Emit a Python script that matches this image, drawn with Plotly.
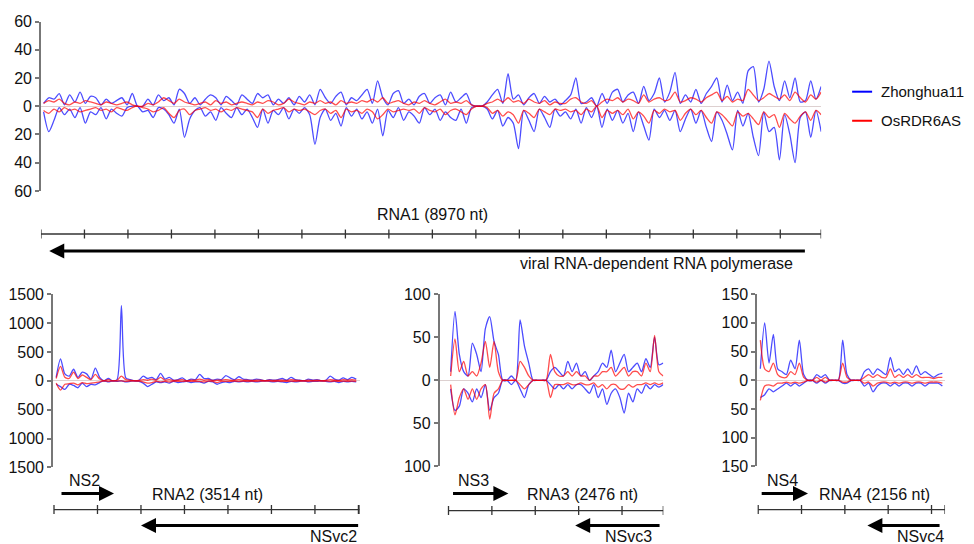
import plotly.graph_objects as go

W, H = 974, 544
FONT = "Liberation Sans, Arial, sans-serif"

# ---------------- data (small RNA counts per bin) ----------------
rna1_len = 8970
rna1_bin = 60
rna1_zh_pos = [2, 6, 5, 9, 1, 8, 3, 10, 2, 7,
               6, 1, 5, 2, 4, 6, 1, 9, 0, 0,
               5, 1, 8, 4, 6, 1, 12, 9, 2, 6,
               1, 5, 8, 6, 1, 7, 4, 1, 8, 5,
               2, 9, 6, 8, 1, 5, 2, 6, 1, 7,
               3, 8, 1, 12, 6, 2, 7, 10, 1, 6,
               4, 8, 12, 2, 18, 6, 1, 9, 11, 2,
               5, 1, 7, 9, 2, 6, 8, 1, 10, 3,
               6, 9, 1, 0, 0, 3, 8, 12, 2, 23,
               5, 8, 1, 6, 9, 2, 7, 3, 5, 1,
               4, 8, 20, 2, 3, 6, 0, 9, 2, 10,
               12, 3, 8, 10, 2, 14, 4, 9, 20, 3,
               10, 24, 2, 8, 3, 12, 2, 9, 14, 20,
               3, 15, 4, 10, 2, 25, 28, 3, 12, 32,
               14, 4, 18, 6, 20, 3, 4, 18, 5, 14]
rna1_zh_neg = [-4, -18, -10, -1, -6, -2, -8, -1, -12, -4,
               -6, -1, -9, -2, -5, -7, -1, 0, 0, -4,
               -3, -8, -1, -2, -6, -12, -2, -22, -9, -3,
               -1, -7, -4, -10, -1, -5, -8, -1, -6, -2,
               -8, -15, -2, -12, -3, -6, -1, -9, -2, -5,
               -1, -6, -27, -8, -2, -10, -5, -14, -1, -7,
               -2, -9, -4, -12, -2, -21, -3, -8, -1, -10,
               -4, -7, -12, -1, -6, -2, -10, -4, -8, -10,
               -2, -12, -1, 0, 0, -2, -9, -3, -14, -8,
               -12, -30, -3, -10, -18, -2, -8, -15, -2, -7,
               -4, -9, -2, -12, -1, -8, 0, -15, -2, -10,
               -3, -12, -5, -18, -4, -14, -24, -2, -8, -3,
               -10, -3, -18, -9, -2, -12, -3, -15, -25, -4,
               -10, -20, -31, -3, -14, -5, -22, -35, -4, -18,
               -15, -38, -6, -20, -40, -8, -4, -22, -3, -18]
rna1_rd_pos = [2, 4, 3, 5, 2, 1, 3, 2, 4, 3,
               2, 1, 3, 2, 1, 2, 3, 1, 0, 0,
               2, 1, 3, 6, 4, 2, 5, 3, 2, 1,
               2, 3, 1, 4, 2, 3, 1, 2, 3, 2,
               1, 3, 2, 4, 3, 1, 2, 5, 3, 2,
               1, 3, 2, 4, 2, 3, 1, 4, 2, 3,
               2, 4, 3, 5, 3, 6, 2, 3, 4, 2,
               1, 3, 2, 4, 2, 1, 3, 5, 2, 3,
               2, 4, 1, 0, 0, 2, 3, 5, 3, 6,
               3, 4, 2, 5, 3, 2, 4, 1, 3, 2,
               2, 5, 6, 3, 2, 4, 0, 3, 5, 4,
               6, 3, 5, 4, 2, 8, 3, 5, 6, 4,
               5, 10, 3, 4, 6, 5, 3, 6, 8, 10,
               4, 7, 3, 5, 4, 12, 8, 4, 6, 9,
               7, 5, 8, 4, 10, 6, 3, 8, 5, 10]
rna1_rd_neg = [-3, -5, -2, -4, -1, -3, -2, -4, -3, -2,
               -1, -3, -2, -4, -1, -2, -3, -1, 0, -1,
               -2, -4, -3, -1, -5, -8, -3, -2, -6, -3,
               -2, -1, -3, -2, -4, -2, -3, -1, -2, -3,
               -4, -8, -2, -5, -3, -2, -1, -4, -2, -3,
               -2, -4, -6, -3, -2, -5, -3, -8, -2, -4,
               -3, -5, -2, -4, -9, -6, -2, -4, -3, -2,
               -3, -2, -5, -1, -3, -4, -2, -6, -3, -2,
               -4, -6, -2, 0, 0, -1, -5, -3, -7, -4,
               -6, -12, -3, -5, -8, -2, -4, -6, -2, -3,
               -2, -4, -3, -6, -2, -4, 0, -8, -3, -5,
               -3, -6, -2, -9, -4, -7, -12, -3, -5, -2,
               -4, -3, -10, -5, -2, -6, -3, -8, -12, -4,
               -6, -10, -14, -4, -7, -5, -9, -13, -4, -8,
               -6, -15, -5, -9, -12, -7, -4, -10, -3, -6]

rna2_len = 3514
rna2_bin = 50
rna2_zh_pos = [60, 380, 120, 80, 200, 60, 150, 120, 30, 220,
               60, 0, 40, 0, 20, 1300, 50, 20, 0, 10,
               80, 40, 60, 20, 130, 30, 60, 10, 20, 50,
               0, 30, 20, 110, 40, 40, 10, 30, 20, 90,
               50, 20, 70, 30, 20, 10, 30, 20, 0, 20,
               10, 20, 40, 10, 60, 20, 10, 0, 30, 10,
               20, 0, 10, 80, 30, 10, 50, 20, 60, 30]
rna2_zh_neg = [-60, -100, -150, -60, -80, -120, -40, -100, -60, -70,
               -30, 0, -20, 0, -10, 0, -20, -10, 0, -10,
               -40, -100, -60, -20, -30, -20, -40, -10, -30, -20,
               -10, -30, -20, -20, -40, -10, -20, -60, -30, -20,
               -30, -10, -20, -10, -20, -10, -20, -10, 0, -10,
               -20, -10, -20, -30, -10, -20, -10, 0, -20, -10,
               -10, 0, -10, -20, -10, -30, -10, -20, -10, -20]
rna2_rd_pos = [40, 250, 60, 40, 150, 40, 100, 60, 20, 110,
               30, 0, 20, 0, 10, 80, 20, 10, 0, 5,
               20, 10, 30, 10, 60, 10, 20, 5, 10, 20,
               0, 10, 10, 30, 10, 20, 5, 10, 10, 20,
               10, 10, 20, 10, 10, 5, 10, 10, 0, 10,
               5, 10, 10, 5, 20, 10, 5, 0, 10, 5,
               10, 0, 5, 20, 10, 5, 20, 10, 20, 10]
rna2_rd_neg = [-40, -160, -60, -50, -40, -70, -30, -50, -40, -30,
               -20, 0, -10, 0, -5, 0, -10, -5, 0, -5,
               -20, -40, -30, -10, -20, -10, -20, -5, -10, -10,
               -5, -10, -10, -10, -20, -5, -10, -30, -10, -10,
               -10, -5, -10, -5, -10, -5, -10, -5, 0, -5,
               -10, -5, -10, -10, -5, -10, -5, 0, -10, -5,
               -5, 0, -5, -10, -5, -10, -5, -10, -5, -10]

rna3_len = 2476
rna3_bin = 50
rna3_zh_pos = [10, 80, 30, 10, 5, 43, 30, 10, 60, 74,
               45, 30, 0, 0, 5, 0, 70, 40, 20, 0,
               0, 0, 0, 10, 15, 10, 5, 22, 10, 20,
               5, 10, 0, 5, 10, 20, 15, 35, 10, 20,
               30, 10, 15, 20, 10, 25, 15, 50, 18, 20]
rna3_zh_neg = [-10, -35, -30, -10, -15, -25, -10, -20, -5, -35,
               -20, -15, 0, 0, -5, 0, -10, -20, -5, 0,
               0, 0, 0, -5, -10, -5, -10, -5, -10, -5,
               -5, -10, -15, -5, -20, -10, -28, -15, -10, -20,
               -38, -15, -25, -10, -15, -5, -10, -5, -8, -5]
rna3_rd_pos = [5, 48, 10, 22, 5, 10, 5, 20, 45, 15,
               45, 10, 0, 0, 0, 0, 22, 15, 5, 0,
               0, 0, 0, 30, 10, 5, 5, 10, 5, 10,
               5, 5, 0, 5, 5, 10, 10, 15, 5, 10,
               15, 5, 10, 10, 5, 20, 10, 52, 10, 5]
rna3_rd_neg = [-5, -40, -20, -10, -22, -10, -22, -10, -5, -45,
               -15, -10, 0, 0, 0, 0, -5, -10, -5, 0,
               0, 0, 0, -20, -5, -5, -5, -3, -5, -5,
               -3, -5, -5, -3, -8, -5, -10, -5, -5, -10,
               -10, -5, -8, -5, -5, -3, -5, -3, -5, -3]

rna4_len = 2156
rna4_bin = 50
rna4_zh_pos = [20, 100, 30, 80, 20, 15, 10, 35, 20, 70,
               10, 0, 0, 10, 5, 10, 0, 0, 0, 70,
               10, 0, 0, 0, 15, 20, 10, 20, 15, 10,
               40, 15, 20, 10, 20, 10, 25, 10, 15, 10,
               5, 10, 12]
rna4_zh_neg = [-30, -25, -15, -20, -15, -10, -5, -10, -5, -10,
               -5, 0, 0, -5, 0, -5, 0, 0, 0, -5,
               -5, 0, 0, 0, -10, -5, -20, -10, -5, -5,
               -10, -5, -10, -5, -5, -10, -5, -5, -10, -5,
               -5, -5, -10]
rna4_rd_pos = [70, 20, 15, 30, 10, 5, 5, 15, 10, 30,
               5, 0, 0, 5, 0, 5, 0, 0, 0, 30,
               5, 0, 0, 0, 5, 10, 5, 10, 5, 5,
               20, 5, 10, 5, 10, 5, 10, 5, 5, 5,
               3, 5, 5]
rna4_rd_neg = [-35, -10, -8, -10, -5, -5, -3, -5, -3, -5,
               -3, 0, 0, -3, 0, -3, 0, 0, 0, -3,
               -3, 0, 0, 0, -5, -3, -10, -5, -3, -3,
               -5, -3, -5, -3, -3, -5, -3, -3, -5, -3,
               -3, -3, -5]

# y-axis ticks
rna1_yticks = [-60, -40, -20, 0, 20, 40, 60]
rna2_yticks = [-1500, -1000, -500, 0, 500, 1000, 1500]
rna3_yticks = [-100, -50, 0, 50, 100]
rna4_yticks = [-150, -100, -50, 0, 50, 100, 150]

# genome ruler ticks (nt)
rna1_ruler = [0, 500, 1000, 1500, 2000, 2500, 3000, 3500, 4000, 4500, 5000,
              5500, 6000, 6500, 7000, 7500, 8000, 8500, 8970]
rna2_ruler = [0, 500, 1000, 1500, 2000, 2500, 3000, 3500, 3514]
rna3_ruler = [0, 500, 1000, 1500, 2000, 2476]
rna4_ruler = [0, 500, 1000, 1500, 2000, 2156]

# ORFs: (label, tail nt, head nt)
rna1_orfs = [("viral RNA-dependent RNA polymerase", 8800, 95)]
rna2_orfs = [("NS2", 69, 690), ("NSvc2", 3514, 1000)]
rna3_orfs = [("NS3", 35, 690), ("NSvc3", 2450, 1460)]
rna4_orfs = [("NS4", 23, 575), ("NSvc4", 2110, 1260)]

series_names = ["Zhonghua11", "OsRDR6AS"]
BLUE = "rgba(0,0,255,0.7)"
RED = "rgba(255,0,0,0.7)"

# ---------------- figure ----------------
# The page is photographed with an offset (body margin) and a slight vertical
# squeeze; these helpers convert target picture pixels into paper fractions.
OX, OY, SY = 8.0, 16.0, 0.9667

def px(x):
    return (x - OX) / W

def py(y):
    return 1 - (y / SY - OY) / H

fig = go.Figure()

panels = [
    dict(n="", L=rna1_len, b=rna1_bin, data=(rna1_zh_pos, rna1_zh_neg, rna1_rd_pos, rna1_rd_neg),
         xdom=(40, 821), xstart=0, ydom=(21, 190), yr=60, yt=rna1_yticks, ruler=rna1_ruler, ry=233),
    dict(n="2", L=rna2_len, b=rna2_bin, data=(rna2_zh_pos, rna2_zh_neg, rna2_rd_pos, rna2_rd_neg),
         xdom=(52, 359), xstart=-12, ydom=(293, 466), yr=1500, yt=rna2_yticks, ruler=rna2_ruler, ry=508),
    dict(n="3", L=rna3_len, b=rna3_bin, data=(rna3_zh_pos, rna3_zh_neg, rna3_rd_pos, rna3_rd_neg),
         xdom=(439, 663), xstart=-103, ydom=(293, 465), yr=100, yt=rna3_yticks, ruler=rna3_ruler, ry=509),
    dict(n="4", L=rna4_len, b=rna4_bin, data=(rna4_zh_pos, rna4_zh_neg, rna4_rd_pos, rna4_rd_neg),
         xdom=(757, 945), xstart=-11, ydom=(293, 465), yr=150, yt=rna4_yticks, ruler=rna4_ruler, ry=508),
]

layout_axes = {}
shapes = []
annotations = []

for p in panels:
    n = p["n"]
    xa = "x" + n
    ya = "y" + n
    zp, zn, rp, rn = p["data"]
    pos = [p["b"] * i + p["b"] / 2 for i in range(len(zp))]
    for vals, col in ((zp, BLUE), (zn, BLUE), (rp, RED), (rn, RED)):
        fig.add_trace(go.Scatter(x=pos, y=vals, mode="lines", xaxis=xa, yaxis=ya,
                                 line=dict(color=col, width=1.3, shape="spline", smoothing=0.7),
                                 showlegend=False, hoverinfo="skip"))
    layout_axes["xaxis" + n] = dict(domain=[px(p["xdom"][0]), px(p["xdom"][1])],
                                    range=[p["xstart"], p["L"]], visible=False,
                                    anchor=ya, fixedrange=True)
    layout_axes["yaxis" + n] = dict(domain=[py(p["ydom"][1]), py(p["ydom"][0])],
                                    range=[-p["yr"], p["yr"]], anchor=xa,
                                    tickvals=p["yt"], ticktext=[str(abs(v)) for v in p["yt"]],
                                    showline=True, linecolor="#777", linewidth=1.5,
                                    ticks="outside", ticklen=4, tickcolor="#777", tickwidth=1.5,
                                    showgrid=False, zeroline=True, zerolinecolor="#ddd0d0",
                                    zerolinewidth=1, tickfont=dict(size=16, color="#111", family=FONT),
                                    fixedrange=True)
    # ruler
    ry = p["ry"]
    shapes.append(dict(type="line", xref=xa, yref="paper", x0=0, x1=p["L"],
                       y0=py(ry), y1=py(ry), line=dict(color="#333", width=1.3)))
    for t in p["ruler"]:
        shapes.append(dict(type="line", xref=xa, yref="paper", x0=t, x1=t,
                           y0=py(ry - 4.5), y1=py(ry + 4.5), line=dict(color="#333", width=1.3)))

# ORF arrows
def add_orf(xa, tail, head, ypix):
    annotations.append(dict(x=head, y=py(ypix), xref=xa, yref="paper",
                            ax=tail, ay=0, axref=xa, ayref="pixel",
                            showarrow=True, arrowhead=2, arrowsize=1, arrowwidth=3,
                            arrowcolor="#000", text=""))

add_orf("x", rna1_orfs[0][1], rna1_orfs[0][2], 250)
add_orf("x2", rna2_orfs[0][1], rna2_orfs[0][2], 492)
add_orf("x2", rna2_orfs[1][1], rna2_orfs[1][2], 524)
add_orf("x3", rna3_orfs[0][1], rna3_orfs[0][2], 492)
add_orf("x3", rna3_orfs[1][1], rna3_orfs[1][2], 524)
add_orf("x4", rna4_orfs[0][1], rna4_orfs[0][2], 492)
add_orf("x4", rna4_orfs[1][1], rna4_orfs[1][2], 524)

def label(text, x, y, anchor="center", size=16):
    annotations.append(dict(text=text, x=px(x), y=py(y), xref="paper", yref="paper",
                            showarrow=False, xanchor=anchor, yanchor="middle",
                            font=dict(size=size, color="#111", family=FONT)))

label("RNA1 (%d nt)" % rna1_len, 432, 214)
label(rna1_orfs[0][0], 656, 262)
label(rna2_orfs[0][0], 84, 479)
label("RNA2 (%d nt)" % rna2_len, 207, 493)
label(rna2_orfs[1][0], 358, 535, "right")
label(rna3_orfs[0][0], 473, 479)
label("RNA3 (%d nt)" % rna3_len, 582, 493)
label(rna3_orfs[1][0], 654, 535, "right")
label(rna4_orfs[0][0], 782, 479)
label("RNA4 (%d nt)" % rna4_len, 874, 493)
label(rna4_orfs[1][0], 946, 535, "right")

# legend (manual)
for name, col, ly in ((series_names[0], "#0000ff", 91), (series_names[1], "#ff0000", 120)):
    shapes.append(dict(type="line", xref="paper", yref="paper", x0=px(852), x1=px(872),
                       y0=py(ly), y1=py(ly), line=dict(color=col, width=2)))
    label(name, 879, ly, "left", size=15)

fig.update_layout(width=W, height=H, margin=dict(l=0, r=0, t=0, b=0),
                  paper_bgcolor="white", plot_bgcolor="white",
                  font=dict(family=FONT, size=16, color="#111"),
                  shapes=shapes, annotations=annotations, **layout_axes)

fig.write_html("out.html")
